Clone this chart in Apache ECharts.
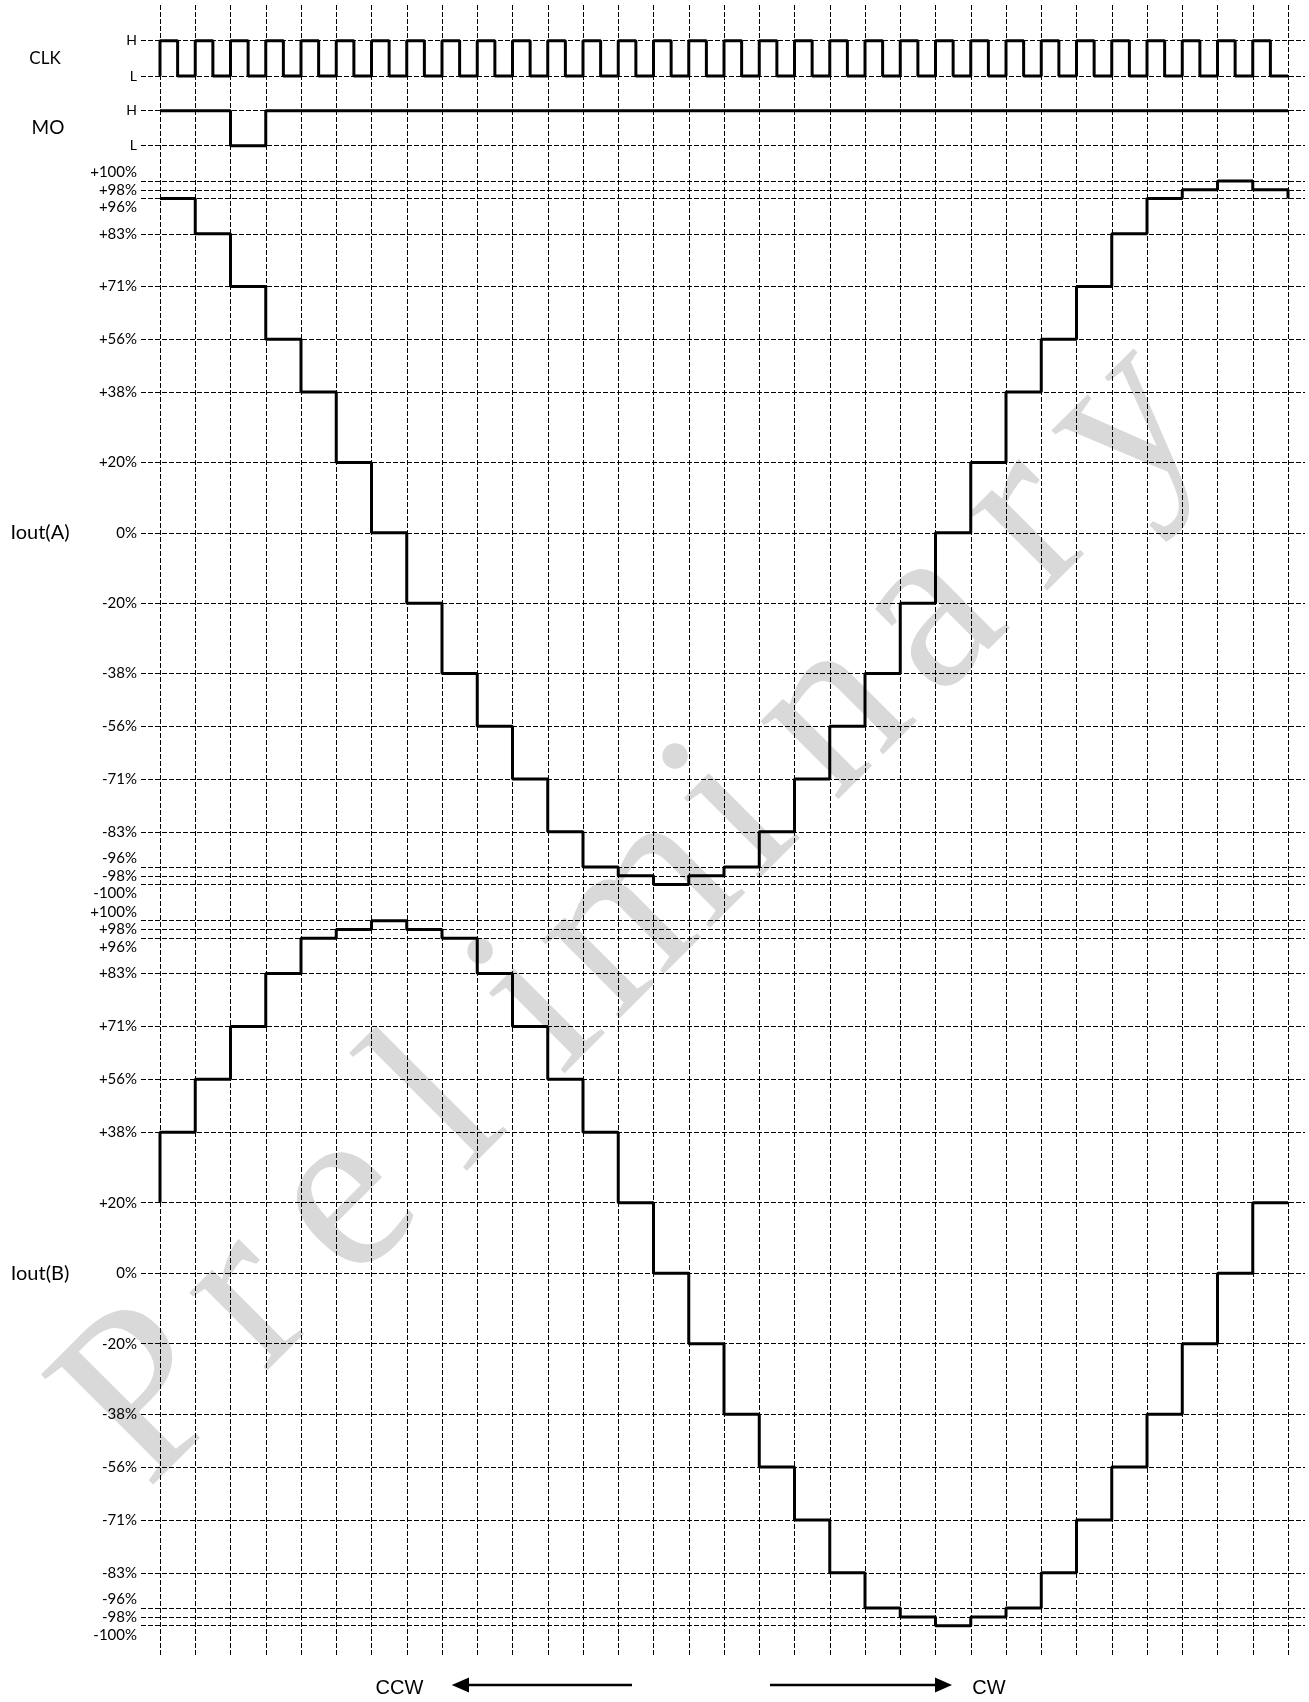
<!DOCTYPE html>
<html>
<head>
<meta charset="utf-8">
<script src="https://cdn.jsdelivr.net/npm/echarts@6/dist/echarts.min.js"></script>
<style>
html,body{margin:0;padding:0;background:#fff;}
#chart{width:1309px;height:1702px;}
</style>
</head>
<body>
<div id="chart"></div>
<script>
// ---------- data ----------
// current levels (percent) shown on the Iout axes, top to bottom
const levelLabels = ['+100%','+98%','+96%','+83%','+71%','+56%','+38%','+20%','0%','-20%','-38%','-56%','-71%','-83%','-96%','-98%','-100%'];
const levelPercents = [100,98,96,83,71,56,38,20,0,-20,-38,-56,-71,-83,-96,-98,-100];
// axis scale of the drawing: row position of each level (non-uniform spacing)
const levelRows = [40,39,38,34,28,22,16,8,0,-8,-16,-22,-28,-34,-38,-39,-40];

// clock: H/L per half period, 32 periods
const clkBits = [1,0,1,0,1,0,1,0,1,0,1,0,1,0,1,0,1,0,1,0,1,0,1,0,1,0,1,0,1,0,1,0,
                 1,0,1,0,1,0,1,0,1,0,1,0,1,0,1,0,1,0,1,0,1,0,1,0,1,0,1,0,1,0,1,0];
// MO per step
const moBits = [1,1,0,1,1,1,1,1,1,1,1,1,1,1,1,1,1,1,1,1,1,1,1,1,1,1,1,1,1,1,1,1];
// Iout(A): level held during each step, plus the level entered at the last edge
const ioutA = [96,83,71,56,38,20,0,-20,-38,-56,-71,-83,-96,-98,-100,-98,-96,-83,-71,-56,-38,-20,0,20,38,56,71,83,96,98,100,98,96];
// Iout(B): level before the first edge, then level held during each step
const ioutB = [20,38,56,71,83,96,98,100,98,96,83,71,56,38,20,0,-20,-38,-56,-71,-83,-96,-98,-100,-98,-96,-83,-71,-56,-38,-20,0,20];

// ---------- helpers ----------
const pctToRow = p => levelRows[levelPercents.indexOf(p)];
const rowToLabel = r => levelLabels[levelRows.indexOf(r)];

const clkData = [[0,0]];
clkBits.forEach((b,i)=>clkData.push([i*0.5,b]));
clkData.push([32, clkBits[clkBits.length-1]]);
const moData = moBits.map((b,i)=>[i,b]);
moData.push([32, moBits[moBits.length-1]]);
const aData = ioutA.map((p,i)=>[i,pctToRow(p)]);
const bData = ioutB.map((p,i)=>[i,pctToRow(p)]);

const dash = [5,2];
const gridLine = {show:true, lineStyle:{color:'#000', width:1, type:dash}};
const labelFont = 'Lato';

const upSet = ['+100%','-96%'];
const dnSet = ['+96%','-100%'];
function levelAxis(gridIndex){
  return {
    gridIndex, type:'value', min:-40, max:40,
    axisLine:{show:false},
    axisTick:{show:false, customValues: levelRows},
    splitLine: gridLine,
    axisLabel:{
      show:true, margin:4, customValues: levelRows,
      formatter: v => {
        const lab = rowToLabel(v);
        if (upSet.includes(lab)) return '{up|'+lab+'}';
        if (dnSet.includes(lab)) return '{dn|'+lab+'}';
        return '{n|'+lab+'}';
      },
      rich:{
        n:{fontFamily:labelFont, fontSize:15, color:'#000'},
        up:{fontFamily:labelFont, fontSize:15, color:'#000', padding:[0,0,18,0]},
        dn:{fontFamily:labelFont, fontSize:15, color:'#000', padding:[18,0,0,0]}
      }
    }
  };
}
function logicAxis(gridIndex){
  return {
    gridIndex, type:'value', min:0, max:1,
    axisLine:{show:false},
    axisTick:{show:false, customValues:[0,1]},
    splitLine: gridLine,
    axisLabel:{show:true, margin:4, customValues:[0,1], formatter: v => v===1?'H':'L',
      fontFamily:labelFont, fontSize:14, color:'#000'}
  };
}
const hiddenX = g => ({gridIndex:g, type:'value', min:-0.539, max:32.482, show:false});

// watermark letters, evenly spaced along a 45° line
const wmText = 'Preliminary';
const wmSize = 240;
const wmEls = [];
(function(){
  const first = -883, last = 496, perp = 1095;
  const n = wmText.length;
  for (let k=0;k<n;k++){
    const c = first + (last-first)*k/(n-1);
    wmEls.push({type:'text', x:(c+perp)/Math.SQRT2, y:(perp-c)/Math.SQRT2, rotation:Math.PI/4, z:-5, silent:true,
      style:{text:wmText[k], font: wmSize+'px "Liberation Serif"', fill:'#d9d9d9', align:'center', verticalAlign:'middle'}});
  }
})();

const lineStyle = {color:'#000', width:3};
const option = {
  animation:false,
  backgroundColor:'#fff',
  grid:[
    {left:160, right:21, top:5, bottom:45},
    {left:141, right:4, top:40.7, height:35.3},
    {left:141, right:4, top:110.7, height:35},
    {left:141, right:4, top:181, height:703.6},
    {left:141, right:4, top:920.7, height:705}
  ],
  xAxis:[
    {gridIndex:0, type:'value', min:0, max:32, interval:1,
      axisLine:{show:false}, axisTick:{show:false}, axisLabel:{show:false}, splitLine:gridLine},
    hiddenX(1), hiddenX(2), hiddenX(3), hiddenX(4)
  ],
  yAxis:[
    {gridIndex:0, type:'value', show:false},
    logicAxis(1), logicAxis(2), levelAxis(3), levelAxis(4)
  ],
  graphic:{elements:[
    ...wmEls,
    {type:'text', x:45, y:58.5, style:{text:'CLK', font:'17px Lato', fill:'#000', align:'center', verticalAlign:'middle'}},
    {type:'text', x:48, y:127.5, style:{text:'MO', font:'19px Lato', fill:'#000', align:'center', verticalAlign:'middle'}},
    {type:'text', x:40, y:533, style:{text:'Iout(A)', font:'20px Lato', fill:'#000', align:'center', verticalAlign:'middle'}},
    {type:'text', x:40, y:1274, style:{text:'Iout(B)', font:'20px Lato', fill:'#000', align:'center', verticalAlign:'middle'}},
    {type:'text', x:399.5, y:1688, style:{text:'CCW', font:'20px "Liberation Sans"', fill:'#000', align:'center', verticalAlign:'middle'}},
    {type:'text', x:989, y:1688, style:{text:'CW', font:'20px "Liberation Sans"', fill:'#000', align:'center', verticalAlign:'middle'}},
    {type:'line', shape:{x1:466, y1:1685, x2:632, y2:1685}, style:{stroke:'#000', lineWidth:2.5}},
    {type:'polygon', shape:{points:[[451.7,1685],[469,1677.5],[469,1692.5]]}, style:{fill:'#000'}},
    {type:'line', shape:{x1:770, y1:1685, x2:938, y2:1685}, style:{stroke:'#000', lineWidth:2.5}},
    {type:'polygon', shape:{points:[[952,1685],[935,1677.5],[935,1692.5]]}, style:{fill:'#000'}}
  ]},
  series:[
    {name:'CLK', type:'line', xAxisIndex:1, yAxisIndex:1, data:clkData, step:'end', symbol:'none', clip:false, lineStyle, z:5},
    {name:'MO', type:'line', xAxisIndex:2, yAxisIndex:2, data:moData, step:'end', symbol:'none', clip:false, lineStyle, z:5},
    {name:'Iout(A)', type:'line', xAxisIndex:3, yAxisIndex:3, data:aData, step:'end', symbol:'none', clip:false, lineStyle, z:5},
    {name:'Iout(B)', type:'line', xAxisIndex:4, yAxisIndex:4, data:bData, step:'start', symbol:'none', clip:false, lineStyle, z:5}
  ]
};
const chart = echarts.init(document.getElementById('chart'), null, {renderer:'canvas'});
chart.setOption(option);
</script>
</body>
</html>
